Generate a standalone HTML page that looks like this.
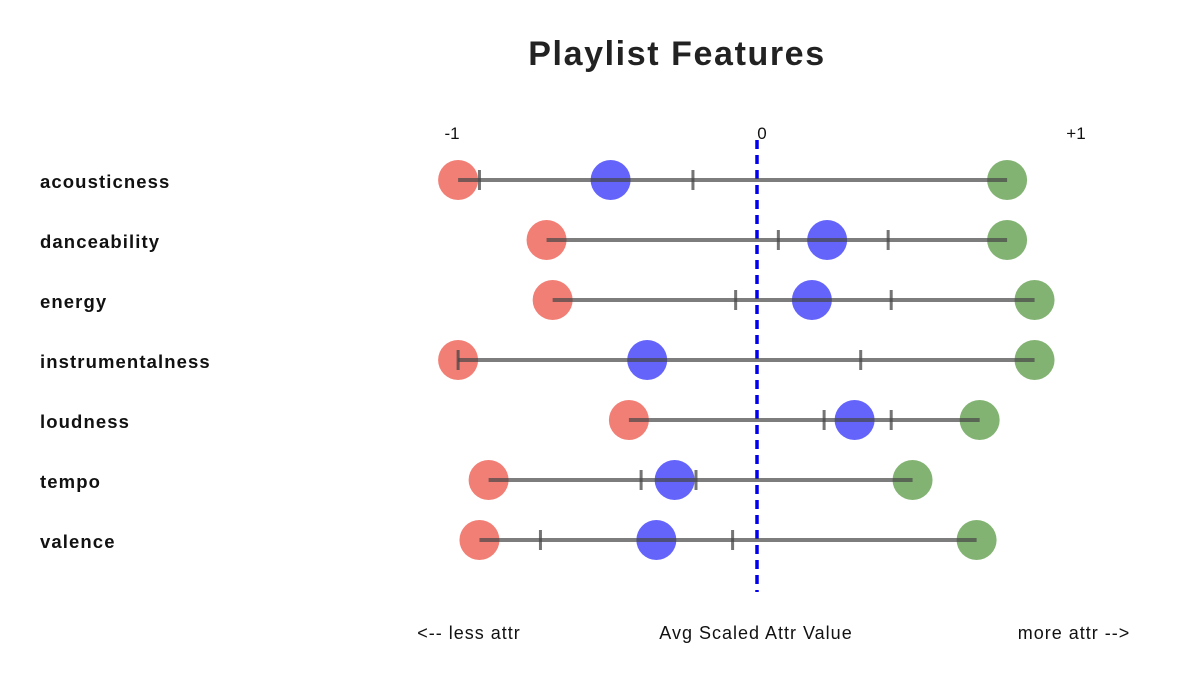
<!DOCTYPE html>
<html><head><meta charset="utf-8"><style>
body{margin:0;background:#fff;}
svg{display:block;font-family:"Liberation Sans",sans-serif;}
</style></head><body>
<svg id="chart" width="1184" height="674">
<text x="677" y="65" text-anchor="middle" font-size="34" font-weight="bold" letter-spacing="1.6" fill="#222">Playlist Features</text>
<g id="axis"></g>
<g id="rows"></g>
<text x="469" y="639" text-anchor="middle" font-size="18" letter-spacing="1" fill="#111">&lt;-- less attr</text>
<text x="756" y="639" text-anchor="middle" font-size="18" letter-spacing="1" fill="#111">Avg Scaled Attr Value</text>
<text x="1074" y="639" text-anchor="middle" font-size="18" letter-spacing="1" fill="#111">more attr --&gt;</text>
</svg>
<script>
const categories=["acousticness","danceability","energy","instrumentalness","loudness","tempo","valence"];
const minVals=[-0.98,-0.69,-0.67,-0.98,-0.42,-0.88,-0.91];
const q1Vals=[-0.91,0.07,-0.07,-0.98,0.22,-0.38,-0.71];
const meanVals=[-0.48,0.23,0.18,-0.36,0.32,-0.27,-0.33];
const q3Vals=[-0.21,0.43,0.44,0.34,0.44,-0.20,-0.08];
const maxVals=[0.82,0.82,0.91,0.91,0.73,0.51,0.72];
const tickVals=[-1,0,1];
const tickLabels=["-1","0","+1"];

const NS="http://www.w3.org/2000/svg";
const x=v=>757+v*305;
const y=i=>180+i*60;
function mk(tag,attrs,parent){const e=document.createElementNS(NS,tag);for(const k in attrs)e.setAttribute(k,attrs[k]);parent.appendChild(e);return e;}
const axis=document.getElementById('axis'), rows=document.getElementById('rows');
tickVals.forEach((v,i)=>{
  const t=mk('text',{x:x(v)+(v===0?5:(v>0?14:0)),y:139,'text-anchor':'middle','font-size':17,fill:'#111'},axis);
  t.textContent=tickLabels[i];
  
  
});
const zl=mk('line',{x1:x(0),x2:x(0),y1:140,y2:592,stroke:'#0000ee','stroke-width':3.5,'stroke-dasharray':'9,6'},axis);


categories.forEach((c,i)=>{
  const g=mk('g',{},rows);
  
  
  const lab=mk('text',{x:40,y:y(i)+8,'font-size':18.5,'font-weight':'bold','letter-spacing':1.1,fill:'#111'},g);
  lab.textContent=c;
  
  
  const dots=[[minVals[i],'rgba(238,95,82,0.8)','min-dot'],[meanVals[i],'rgba(40,40,250,0.72)','mean-dot'],[maxVals[i],'rgba(100,160,80,0.8)','max-dot']];
  dots.forEach(d=>{
    const ci=mk('circle',{cx:x(d[0]),cy:y(i),r:20,fill:d[1]},g);
    
    
  });
  const ln=mk('line',{x1:x(minVals[i]),x2:x(maxVals[i]),y1:y(i),y2:y(i),stroke:'rgba(70,70,70,0.7)','stroke-width':4},g);
  
  
  [q1Vals[i],q3Vals[i]].forEach(q=>{
    const tk=mk('line',{x1:x(q),x2:x(q),y1:y(i)-10,y2:y(i)+10,stroke:'rgba(70,70,70,0.75)','stroke-width':3},g);
    
    
  });
});
</script>
</body></html>
